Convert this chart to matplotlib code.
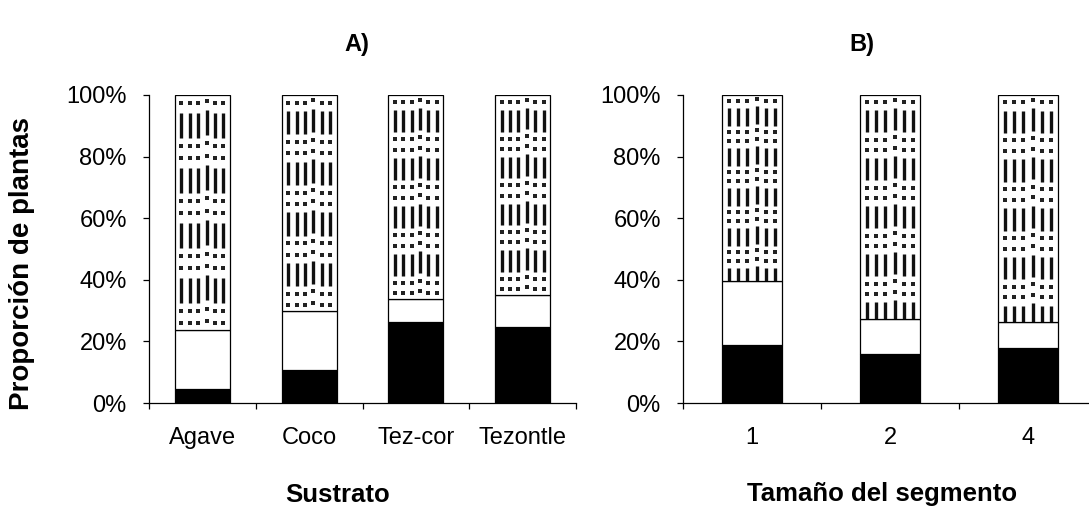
import numpy as np
import matplotlib
matplotlib.use("Agg")
import matplotlib.pyplot as plt
from matplotlib.ticker import FixedLocator, PercentFormatter

plt.rcParams['font.family'] = ['Liberation Sans', 'DejaVu Sans']

# Data (percent of plants per category)
sustrato = ["Agave", "Coco", "Tez-cor", "Tezontle"]
sus_black = [4.6, 10.8, 26.4, 24.8]
sus_white = [19.1, 19.0, 7.3, 10.3]

segmento = ["1", "2", "4"]
seg_black = [18.8, 16.0, 18.0]
seg_white = [20.7, 11.4, 8.2]

titles = ["A)", "B)"]
xlabels = ["Sustrato", "Tamaño del segmento"]
ylabel = "Proporción de plantas"

# pattern tile (fraction of one period, measured from top of the segment)
DOT_ROWS = [0.15, 0.93]
DASH = (0.32, 0.78)
COLS = np.array([0.12, 0.272, 0.424, 0.576, 0.728, 0.88])
COL_SHIFT = np.array([0, 0, 0, -0.05, 0, 0])


def texture(ax, patch, n_per):
    x0, y0 = patch.get_x(), patch.get_y()
    w, h = patch.get_width(), patch.get_height()
    top = y0 + h
    step = h / n_per
    xs = x0 + COLS * w
    for k in range(-1, int(np.ceil(n_per)) + 1):
        ytop = top - (k + DASH[0] + COL_SHIFT) * step
        ybot = top - (k + DASH[1] + COL_SHIFT) * step
        lc = ax.vlines(xs, ybot, ytop, colors='#111111', lw=2.4, zorder=3)
        lc.set_capstyle('butt')
        lc.set_clip_path(patch)
        for r in DOT_ROWS:
            yd = top - (k + r + COL_SHIFT) * step
            ln, = ax.plot(xs, yd, ls='none', marker='s', ms=2.2, mew=0,
                          color='#222222', zorder=3)
            ln.set_clip_path(patch)


def panel(ax, cats, black, white, width, n_per):
    x = np.arange(len(cats))
    black = np.array(black)
    white = np.array(white)
    rest = 100 - black - white
    ax.bar(x, black, width, color='black', edgecolor='black', lw=0.9, zorder=2)
    ax.bar(x, white, width, bottom=black, color='white', edgecolor='black', lw=0.9, zorder=2)
    top = ax.bar(x, rest, width, bottom=black + white, color='white',
                 edgecolor='black', lw=0.9, zorder=2)
    for p in top.patches:
        texture(ax, p, n_per)

    ax.set_xlim(-0.5, len(cats) - 0.5)
    ax.set_ylim(0, 100)
    ax.yaxis.set_major_locator(FixedLocator([0, 20, 40, 60, 80, 100]))
    ax.yaxis.set_major_formatter(PercentFormatter(decimals=0))
    ax.set_xticks(x, cats)
    ax.set_xticks(np.arange(len(cats) + 1) - 0.5, minor=True)
    ax.tick_params(axis='x', which='major', length=0, pad=17, labelsize=17)
    ax.tick_params(axis='x', which='minor', length=4, width=0.9, direction='out')
    ax.tick_params(axis='y', length=4, width=0.9, direction='out', pad=12, labelsize=17)
    for s in ['top', 'right']:
        ax.spines[s].set_visible(False)
    for s in ['left', 'bottom']:
        ax.spines[s].set_linewidth(0.9)


fig = plt.figure(figsize=(10.89, 5.09), dpi=100)
ax1 = fig.add_axes([149 / 1089, 106 / 509, 427 / 1089, 308 / 509])
ax2 = fig.add_axes([683 / 1089, 106 / 509, 414 / 1089, 308 / 509])

panel(ax1, sustrato, sus_black, sus_white, 0.515, 4.27)
panel(ax2, segmento, seg_black, seg_white, 0.43, 4.66)

ax1.set_ylabel(ylabel, fontsize=20, fontweight='bold', va='center')
ax1.yaxis.set_label_coords(-149 / 427 + 22 / 427, (403 - 264) / 308)

ax1.set_xlabel(xlabels[0], fontsize=18.5, fontweight='bold', va='center')
ax1.xaxis.set_label_coords((337.5 - 149) / 427, -(495 - 403) / 308)
ax2.set_xlabel(xlabels[1], fontsize=18.5, fontweight='bold', va='center')
ax2.xaxis.set_label_coords((882.5 - 683) / 414, -(494 - 403) / 308)

fig.text(357 / 1089, 1 - 45 / 509, titles[0], fontsize=17, fontweight='bold',
         ha='center', va='center')
fig.text(862 / 1089, 1 - 45 / 509, titles[1], fontsize=17, fontweight='bold',
         ha='center', va='center')

fig.savefig("out.png", dpi=100)
